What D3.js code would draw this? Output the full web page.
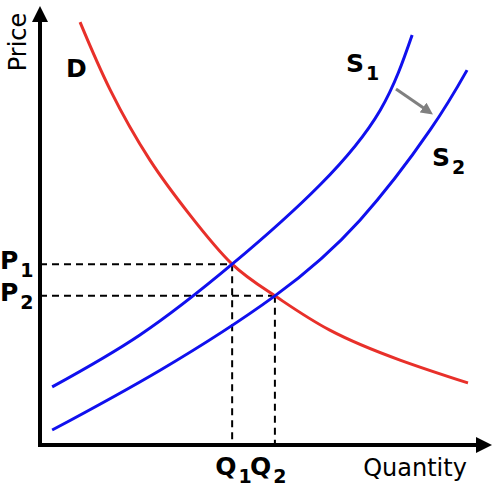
<!DOCTYPE html>
<html><head><meta charset="UTF-8">
<script src="https://d3js.org/d3.v7.min.js"></script>
<style>body{margin:0;background:#fff}svg{display:block;font-family:'DejaVu Sans',sans-serif}</style>
</head><body>
<svg id="chart" width="498" height="492"></svg>
<script>
var demand = [[0.89,9.61],[1.56,8.07],[2.44,6.48],[3.33,5.23],[4.27,4.11],[5.22,3.39],[6.44,2.61],[8.0,1.93],[9.51,1.41]];
var supply1 = [[0.27,1.32],[2.22,2.5],[4.27,4.11],[6.22,5.91],[7.56,7.61],[8.27,9.32]];
var supply2 = [[0.27,0.34],[2.67,1.70],[5.22,3.39],[7.11,5.11],[8.67,7.16],[9.49,8.52]];
var equilibria = [{q:4.27,p:4.11,n:"1"},{q:5.22,p:3.39,n:"2"}];

var svg = d3.select("#chart");
var x = d3.scaleLinear().domain([0,10]).range([40,490]);
var y = d3.scaleLinear().domain([0,10]).range([445,5]);
var line = d3.line().x(function(d){return x(d[0]);}).y(function(d){return y(d[1]);}).curve(d3.curveNatural);

svg.append("defs").selectAll("marker").data([["ax","#000"],["ar","#808080"]]).enter().append("marker")
  .attr("id",function(d){return d[0];}).attr("viewBox","0 0 10 10").attr("refX",5).attr("refY",5)
  .attr("markerWidth",4).attr("markerHeight",4).attr("orient","auto")
  .append("path").attr("d","M0,0L10,5L0,10z").attr("fill",function(d){return d[1];});

// dashed guides
equilibria.forEach(function(e){
  svg.append("line").attr("x1",x(0)).attr("x2",x(e.q)).attr("y1",y(e.p)).attr("y2",y(e.p))
    .attr("stroke","#000").attr("stroke-width",2).attr("stroke-dasharray","7,5");
  svg.append("line").attr("x1",x(e.q)).attr("x2",x(e.q)).attr("y1",y(e.p)).attr("y2",y(0))
    .attr("stroke","#000").attr("stroke-width",2).attr("stroke-dasharray","7,5");
});

svg.append("path").attr("d",line(demand)).attr("fill","none").attr("stroke","#e8302a").attr("stroke-width",3);
[supply1,supply2].forEach(function(s){
  svg.append("path").attr("d",line(s)).attr("fill","none").attr("stroke","#1010ee").attr("stroke-width",3);
});

// axes
svg.append("line").attr("x1",x(0)).attr("y1",y(0)+2).attr("x2",x(0)).attr("y2",14)
  .attr("stroke","#000").attr("stroke-width",4).attr("marker-end","url(#ax)");
svg.append("line").attr("x1",x(0)-2).attr("y1",y(0)).attr("x2",484).attr("y2",y(0))
  .attr("stroke","#000").attr("stroke-width",4).attr("marker-end","url(#ax)");

// shift arrow
svg.append("line").attr("x1",396).attr("y1",89).attr("x2",428).attr("y2",111)
  .attr("stroke","#808080").attr("stroke-width",3).attr("marker-end","url(#ar)");

svg.append("text").attr("transform","translate(26,42) rotate(-90)").attr("text-anchor","middle")
  .attr("font-size",24).text("Price");
svg.append("text").attr("x",415).attr("y",476).attr("text-anchor","middle").attr("font-size",24).text("Quantity");

function label(xp,yp,main,sub,anchor){
  var t = svg.append("text").attr("x",xp).attr("y",yp).attr("font-size",25).attr("font-weight","bold")
    .attr("text-anchor",anchor||"start");
  t.append("tspan").text(main);
  if(sub) t.append("tspan").attr("font-size",19).attr("dx",2).attr("dy",8).text(sub);
}
label(66,77,"D");
label(346,72,"S","1");
label(432,166,"S","2");
equilibria.forEach(function(e){
  label(0,y(e.p)+5,"P",e.n);
  label(x(e.q)-17 + (e.n==="2"?-8:0),y(0)+30,"Q",e.n);
});
</script>
</body></html>
